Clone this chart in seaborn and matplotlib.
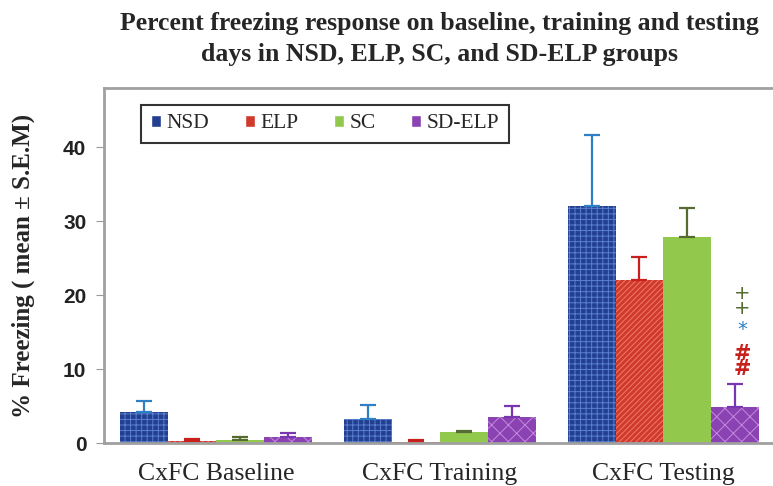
import numpy as np
import pandas as pd
import matplotlib
matplotlib.use("Agg")
import matplotlib.pyplot as plt
import seaborn as sns

# values
phases = ["CxFC Baseline", "CxFC Training", "CxFC Testing"]
groups = ["NSD", "ELP", "SC", "SD-ELP"]
nsd = [4.2, 3.3, 32.1]
elp = [0.3, 0.2, 22.0]
sc = [0.5, 1.5, 27.9]
sdelp = [0.8, 3.5, 4.9]
nsd_err = [1.5, 1.8, 9.5]
elp_err = [0.3, 0.3, 3.2]
sc_err = [0.4, 0.1, 3.9]
sdelp_err = [0.65, 1.5, 3.1]

means = [nsd, elp, sc, sdelp]
errs = [nsd_err, elp_err, sc_err, sdelp_err]

rows = []
for g, m in zip(groups, means):
    for p, v in zip(phases, m):
        rows.append({"phase": p, "group": g, "freezing": v})
df = pd.DataFrame(rows)

face = ["#233f8f", "#d03a2c", "#92c94c", "#8b43b3"]
hatch_col = ["#5a7fd0", "#f07a6a", "#92c94c", "#c38ae0"]
err_col = ["#2f7fc7", "#c8201c", "#556b2f", "#7a35b0"]
hatches = ["+++", "//////", "", "xx"]

sns.set_style("white")
plt.rcParams["hatch.linewidth"] = 0.7

fig = plt.figure(figsize=(7.73, 4.86), dpi=100)
ax = fig.add_axes([0.135, 0.088, 0.865, 0.731])

sns.barplot(data=df, x="phase", y="freezing", hue="group", order=phases,
            hue_order=groups, palette=face, errorbar=None, width=0.857,
            saturation=1, ax=ax, legend=True)

bar_sets = list(ax.containers)
for i, cont in enumerate(bar_sets):
    for j, bar in enumerate(cont.patches):
        bar.set_hatch(hatches[i])
        bar.set_edgecolor(hatch_col[i])
        bar.set_linewidth(0)
        cx = bar.get_x() + bar.get_width() / 2
        ax.errorbar(cx, bar.get_height(), yerr=[[0], [errs[i][j]]],
                    fmt="none", ecolor=err_col[i], elinewidth=1.6,
                    capsize=6, capthick=1.6)

# significance marks over SD-ELP testing bar
b = bar_sets[3].patches[2]
sx = b.get_x() + b.get_width() / 2 + 0.03
ax.text(sx, 19.2, "+\n+", color="#556b2f", fontsize=14, ha="center", va="center",
        linespacing=0.72)
ax.text(sx, 15.4, "*", color="#2f7fc7", fontsize=14, ha="center", va="center")
ax.text(sx, 11.0, "#\n#", color="#c8201c", fontsize=15, ha="center", va="center",
        linespacing=0.7, fontweight="bold")

ax.set_ylim(0, 48)
ax.set_xlim(-0.5, 2.49)
ax.set_yticks([0, 10, 20, 30, 40])
ax.set_yticklabels(["0", "10", "20", "30", "40"], fontsize=15, fontweight="bold",
                   family="Liberation Sans", color="#222222")
ax.set_xticks(range(3))
ax.set_xticklabels(phases, fontsize=18.5, family="Liberation Serif")
ax.tick_params(axis="x", length=0, pad=14)
ax.tick_params(axis="y", length=6, color="#999999", direction="out", left=True, pad=7)
ax.set_xlabel("")
ax.set_ylabel("% Freezing ( mean \u00b1 S.E.M)", fontsize=18, fontweight="bold",
              family="Liberation Serif", labelpad=20)

for s in ["left", "top", "bottom"]:
    ax.spines[s].set_color("#a0a0a0")
    ax.spines[s].set_linewidth(2)
ax.spines["right"].set_visible(False)

leg = ax.legend(loc="upper left", bbox_to_anchor=(0.055, 0.953), ncol=4,
                frameon=True, fancybox=False, edgecolor="black", borderaxespad=0,
                prop={"family": "Liberation Serif", "size": 15.5},
                handlelength=0.47, handleheight=0.47, columnspacing=1.65,
                handletextpad=0.25, borderpad=0.45)
leg.get_frame().set_linewidth(1.5)

fig.suptitle("Percent freezing response on baseline, training and testing\n"
             "days in NSD, ELP, SC, and SD-ELP groups",
             x=0.568, y=0.975, fontsize=18.5, fontweight="bold",
             family="Liberation Serif", linespacing=1.45)

fig.savefig("out.png", dpi=100)
